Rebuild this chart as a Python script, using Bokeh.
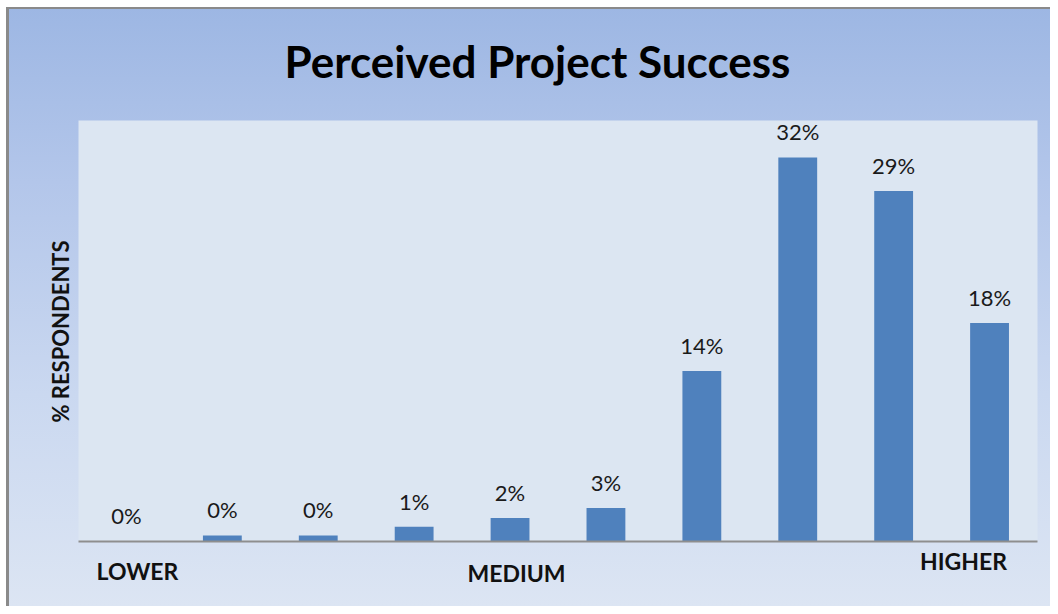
import math
from bokeh.plotting import figure
from bokeh.models import Range1d, Label, LabelSet, BoxAnnotation, ColumnDataSource
from bokeh.core.properties import value
from bokeh.embed import file_html
from bokeh.resources import INLINE

# ---- data ----
scale_points = [1, 2, 3, 4, 5, 6, 7, 8, 9, 10]
respondents_pct = [0.0, 0.5, 0.5, 1.22, 1.95, 2.8, 14.2, 32.0, 29.2, 18.2]
value_labels = ["0%", "0%", "0%", "1%", "2%", "3%", "14%", "32%", "29%", "18%"]
scale_words = ["LOWER", "MEDIUM", "HIGHER"]

title_text = "Perceived Project Success"
y_label = "% RESPONDENTS"

# ---- layout (annotation anchors in data units) ----
scale_word_x = [1.115, 5.067, 9.728]
scale_word_y = [-2.45, -2.62, -1.6]
PLOT_TOP = 35.08

BAR = "#4F81BD"
FONT = "Lato"

p = figure(width=1050, height=606,
           x_range=Range1d(-0.3133, 10.6356), y_range=Range1d(-5.417, 45.083),
           output_backend="svg", toolbar_location=None,
           min_border_left=0, min_border_right=0,
           min_border_top=0, min_border_bottom=0)
p.styles = {
    "background": "linear-gradient(to bottom, #9CB6E3 0%, #B3C6EA 30%, #CAD8F0 65%, #DCE5F3 100%)",
    "box-shadow": "inset 6px 7px 0 #ffffff, inset 9px 9px 0 #8A8A8A",
}
p.border_fill_color = None
p.background_fill_color = None
p.outline_line_color = None
p.grid.visible = False
p.axis.visible = False

# plot area panel
p.add_layout(BoxAnnotation(left=0.5, right=10.5, bottom=0, top=PLOT_TOP,
                           fill_color="#DCE6F2", fill_alpha=1.0,
                           line_color=None, level="underlay"))

src = ColumnDataSource(dict(x=scale_points, top=respondents_pct, lab=value_labels))
p.vbar(x="x", top="top", bottom=0, width=0.405, source=src,
       fill_color=BAR, line_color=None)

# category axis line
p.add_layout(BoxAnnotation(left=0.5, right=10.5, bottom=-0.085, top=0.085,
                           fill_color="#8E8E8E", fill_alpha=1.0,
                           line_color=None))

p.add_layout(LabelSet(x="x", y="top", text="lab", source=src, y_offset=17,
                      text_align="center", text_baseline="alphabetic",
                      text_font=value(FONT), text_font_size=value("22px"),
                      text_color=value("#1a1a1a")))

for w, wx, wy in zip(scale_words, scale_word_x, scale_word_y):
    p.add_layout(Label(x=wx, y=wy, text=w, text_align="center",
                       text_baseline="alphabetic", text_font=FONT,
                       text_font_size="23px", text_font_style="bold",
                       text_color="#111111"))

p.add_layout(Label(x=5.286, y=40.0, text=title_text, text_align="center",
                   text_baseline="alphabetic", text_font=FONT,
                   text_font_size="44px", text_font_style="bold",
                   text_color="#000000"))

p.add_layout(Label(x=0.312, y=17.5, text=y_label, angle=math.pi / 2,
                   text_align="center", text_baseline="middle",
                   text_font=FONT, text_font_size="22px",
                   text_font_style="bold", text_color="#111111"))

open("out.html", "w").write(file_html(p, INLINE))
